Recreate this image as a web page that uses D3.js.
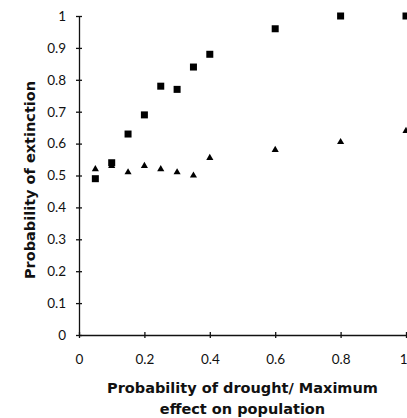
<!DOCTYPE html>
<html>
<head>
    <meta charset="utf-8">
    <title>Probability of extinction</title>
    <style>
        body {
            margin: 0;
            background: #fff;
        }

        svg {
            display: block;
        }

        .tick text {
            font-family: 'Lato', sans-serif;
            font-size: 13.5px;
            fill: #111;
        }

        .axis-title {
            font-family: 'DejaVu Sans', sans-serif;
            font-weight: bold;
            font-size: 14.5px;
            fill: #111;
        }
    </style>
</head>
<body>
    <svg width="407" height="418"></svg>

<script src="https://d3js.org/d3.v7.min.js"></script>
<script>

    // drought probability / max effect on population
    let xValues = [0.05, 0.1, 0.15, 0.2, 0.25, 0.3, 0.35, 0.4, 0.6, 0.8, 1.0];

    // squares
    let squareSeries = [0.49, 0.54, 0.63, 0.69, 0.78, 0.77, 0.84, 0.88, 0.96, 1.0, 1.0];

    // triangles
    let triangleSeries = [0.52, 0.53, 0.51, 0.53, 0.52, 0.51, 0.50, 0.555, 0.58, 0.605, 0.64];

    let xTicks = [0, 0.2, 0.4, 0.6, 0.8, 1];
    let yTicks = [0, 0.1, 0.2, 0.3, 0.4, 0.5, 0.6, 0.7, 0.8, 0.9, 1];

    let margin = { top: 16, right: 1, bottom: 83, left: 79 };
    let width = 407;
    let height = 418;

    let svg = d3.select('svg');

    let x = d3.scaleLinear()
        .domain([0, 1])
        .range([margin.left, width - margin.right]);

    let y = d3.scaleLinear()
        .domain([0, 1])
        .range([height - margin.bottom, margin.top]);

    let fmt = d => d === 0 || d === 1 ? String(d) : d3.format('.1f')(d);

    // x axis, ticks crossing the line
    let xAxis = svg.append('g')
        .attr('class', 'x axis')
        .attr('transform', `translate(0,${y(0)})`)
        .call(d3.axisBottom(x)
            .tickValues(xTicks)
            .tickSize(3)
            .tickPadding(16)
            .tickSizeOuter(0)
            .tickFormat(fmt));

    xAxis.selectAll('.tick line')
        .attr('y1', -3)
        .attr('y2', 3);

    // last label sits on the window edge, keep it inside
    xAxis.selectAll('.tick text')
        .filter(d => d === 1)
        .attr('text-anchor', 'end')
        .attr('dx', 1);

    // y axis
    let yAxis = svg.append('g')
        .attr('class', 'y axis')
        .attr('transform', `translate(${x(0)},0)`)
        .call(d3.axisLeft(y)
            .tickValues(yTicks)
            .tickSize(3)
            .tickPadding(10)
            .tickSizeOuter(0)
            .tickFormat(fmt));

    yAxis.selectAll('.tick line')
        .attr('x1', -3)
        .attr('x2', 3);

    svg.selectAll('.domain, .tick line')
        .attr('stroke', '#111')
        .attr('stroke-width', 1.3);

    // markers
    let squareData = xValues.map((d, i) => ({ x: d, y: squareSeries[i] }));
    let triData = xValues.map((d, i) => ({ x: d, y: triangleSeries[i] }));

    svg.append('g')
        .selectAll('path')
        .data(triData)
        .join('path')
        .attr('d', d3.symbol().type(d3.symbolTriangle).size(22))
        .attr('transform', d => `translate(${x(d.x)},${y(d.y)})`)
        .attr('fill', '#000');

    svg.append('g')
        .selectAll('rect')
        .data(squareData)
        .join('rect')
        .attr('x', d => x(d.x) - 3.5)
        .attr('y', d => y(d.y) - 3.5)
        .attr('width', 7)
        .attr('height', 7)
        .attr('fill', '#000');

    // axis titles
    let cx = (x(0) + x(1)) / 2;

    svg.append('text')
        .attr('class', 'axis-title')
        .attr('x', cx)
        .attr('y', 393)
        .attr('text-anchor', 'middle')
        .text('Probability of drought/ Maximum');

    svg.append('text')
        .attr('class', 'axis-title')
        .attr('x', cx)
        .attr('y', 414)
        .attr('text-anchor', 'middle')
        .text('effect on population');

    svg.append('text')
        .attr('class', 'axis-title')
        .attr('transform', 'translate(35,180) rotate(-90)')
        .attr('text-anchor', 'middle')
        .text('Probability of extinction');

</script>
</body>
</html>
